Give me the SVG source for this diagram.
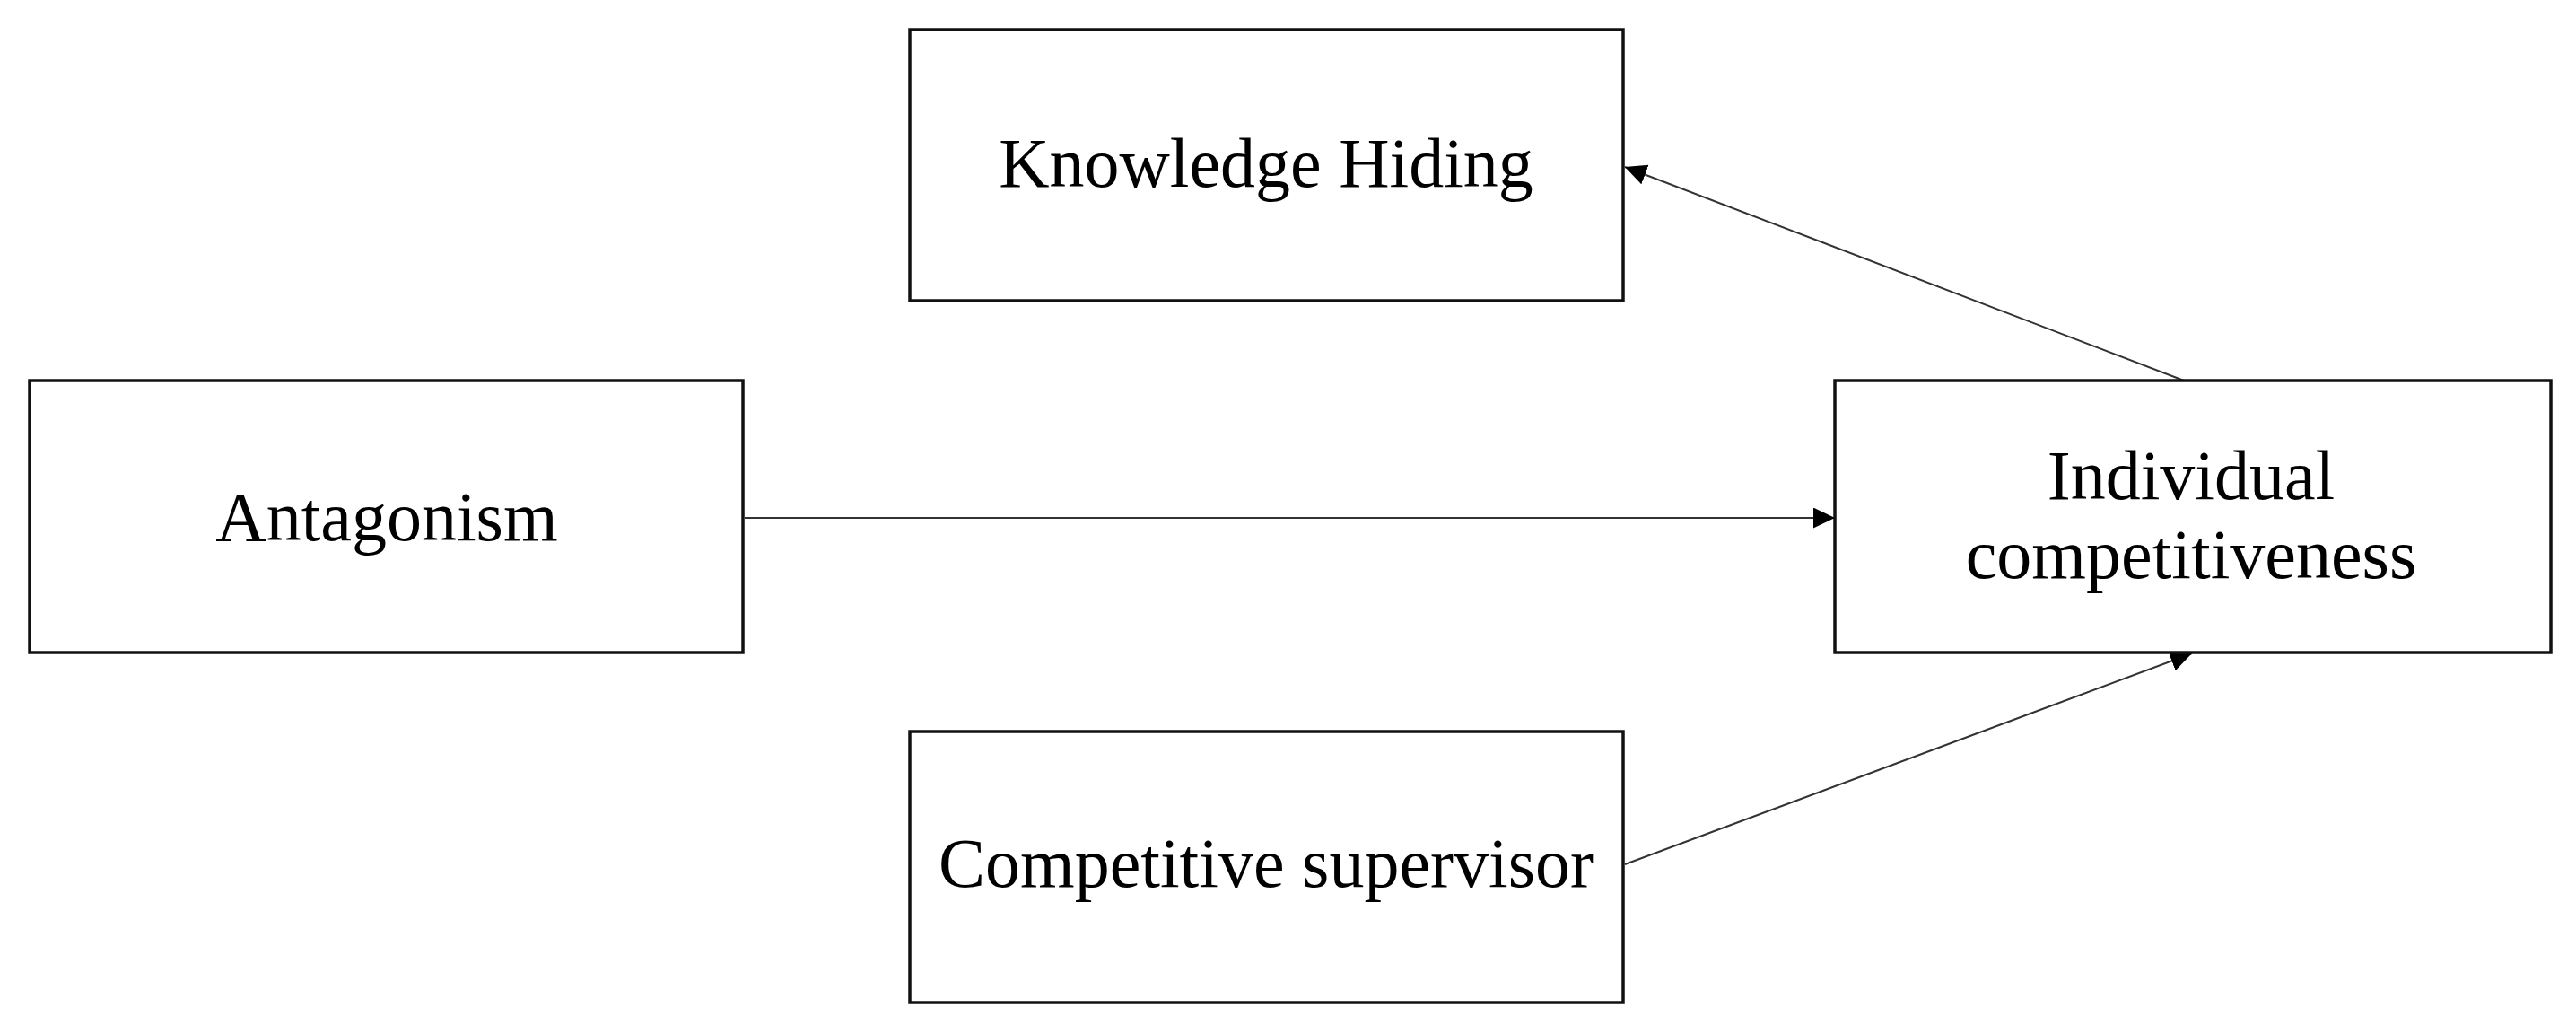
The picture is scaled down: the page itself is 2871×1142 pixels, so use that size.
<svg xmlns="http://www.w3.org/2000/svg" width="2871" height="1142" viewBox="0 0 2871 1142">
  <style>
    .box { fill: #ffffff; stroke: #111111; stroke-width: 3.5; }
    .lbl { font-family: "Liberation Serif", "Times New Roman", serif; font-size: 78px; fill: #000000; text-anchor: middle; }
    .edge { stroke: #333333; stroke-width: 2; fill: none; marker-end: url(#arrow); }
  </style>
  <defs>
    <marker id="arrow" markerUnits="userSpaceOnUse" markerWidth="26" markerHeight="24" refX="24" refY="11.5" orient="auto">
      <path d="M0,0 L24,11.5 L0,23 Z" fill="#000000"/>
    </marker>
  </defs>
  <rect x="0" y="0" width="2871" height="1142" fill="#ffffff"/>
  <g id="connectors">
    <line class="edge" x1="830" y1="577" x2="2045" y2="577"/>
    <line class="edge" x1="2434" y1="424" x2="1811" y2="186"/>
    <line class="edge" x1="1811" y1="963" x2="2443" y2="728"/>
  </g>
  <g id="node-knowledge-hiding">
    <rect class="box" x="1014" y="33" width="795" height="302"/>
    <text class="lbl" x="1411" y="208">Knowledge Hiding</text>
  </g>
  <g id="node-antagonism">
    <rect class="box" x="33" y="424" width="795" height="303"/>
    <text class="lbl" x="431" y="602">Antagonism</text>
  </g>
  <g id="node-individual-competitiveness">
    <rect class="box" x="2045" y="424" width="798" height="303"/>
    <text class="lbl" x="2442" y="556">Individual</text>
    <text class="lbl" x="2442" y="644">competitiveness</text>
  </g>
  <g id="node-competitive-supervisor">
    <rect class="box" x="1014" y="815" width="795" height="302"/>
    <text class="lbl" x="1411" y="988">Competitive supervisor</text>
  </g>
</svg>
